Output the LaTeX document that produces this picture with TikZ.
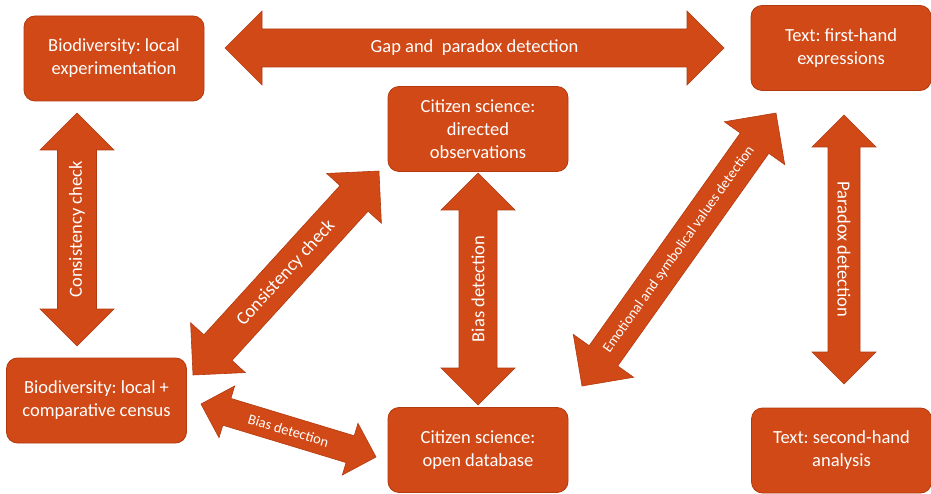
\documentclass[tikz,border=0pt]{standalone}
\usepackage{fontspec}
\setmainfont{Carlito}
\usepackage{tikz}
\usetikzlibrary{calc}
\frenchspacing
\definecolor{rust}{RGB}{209,73,22}
\definecolor{rustdark}{RGB}{178,58,16}
\tikzstyle{box}=[rectangle,rounded corners=11pt,fill=rust,draw=rustdark,line width=0.8pt,text=white,align=center,minimum width=180pt,minimum height=85pt,inner sep=2pt,font=\fontsize{18.5}{23}\selectfont]
\tikzstyle{arrowbody}=[fill=rust,draw=rustdark,line width=0.6pt,line join=miter]
\tikzstyle{arrowlabel}=[text=white,inner sep=0pt]
% fat double arrow: from, to, shaft half width, head half width (= head length), font size, label
\newcommand{\fatarrow}[6]{%
  \path[arrowbody] let \p1=($(#2)-(#1)$), \n1={atan2(\y1,\x1)}, \n2={veclen(\x1,\y1)},
      \n3={veclen(\x1,\y1)-#4pt}, \n4={0.5*veclen(\x1,\y1)} in
    [shift={(#1)}, rotate=\n1]
    (0pt,0pt) -- (#4pt,#4pt) -- (#4pt,#3pt) -- (\n3,#3pt) -- (\n3,#4pt) -- (\n2,0pt)
    -- (\n3,-#4pt) -- (\n3,-#3pt) -- (#4pt,-#3pt) -- (#4pt,-#4pt) -- cycle
    (\n4,0pt) node[arrowlabel,rotate=\n1,font=\fontsize{#5}{#5}\selectfont] {#6};}

\begin{document}
\begin{tikzpicture}[x=1pt,y=-1pt]
    \path[fill=white] (0,0) rectangle (931,494);
    \useasboundingbox (0,0) rectangle (931,494);
    % First we draw the boxes
    \foreach \pos/\name/\txt in {{(114,58.5)/bioexp/{Biodiversity: local\\experimentation}},
        {(478,129)/citdir/{Citizen science:\\directed\\observations}},
        {(841,48)/textfirst/{Text: first-hand\\expressions}},
        {(96.5,400.5)/biocensus/{Biodiversity: local +\\comparative census}},
        {(478,450)/citopen/{Citizen science:\\open database}},
        {(841.5,450.5)/textsecond/{Text: second-hand\\analysis}}}
        \node[box] (\name) at \pos {\txt};

    % Arrow tips
    \foreach \pos/\name in {{(225,48)/gapL}, {(724,48)/gapR}, {(77,346)/consB}, {(77,113)/consT},
        {(478,405)/biasB}, {(478,173)/biasT}, {(844,115)/parT}, {(844,384)/parB},
        {(193,375)/dconsB}, {(379,171)/dconsT}, {(582,386)/emoB}, {(776,113)/emoT},
        {(201,404)/sbiasL}, {(376,457)/sbiasR}}
        \path \pos coordinate (\name);

    % Connect them with fat arrows and draw labels
    \foreach \src/\dst/\shaft/\head/\lab/\txt in {gapL/gapR/19/37/18.5/{Gap and\ \ paradox detection},
        consB/consT/19.5/37/18.5/{Consistency check}, biasB/biasT/19/37/18.5/{Bias detection},
        parT/parB/16/32/18.5/{Paradox detection}, dconsB/dconsT/19/37/18.5/{Consistency check},
        emoB/emoT/17.5/37/14.5/{Emotional and symbolical values detection},
        sbiasL/sbiasR/14/27/14.5/{Bias detection}}
        {\fatarrow{\src}{\dst}{\shaft}{\head}{\lab}{\txt}}

\end{tikzpicture}
\end{document}
